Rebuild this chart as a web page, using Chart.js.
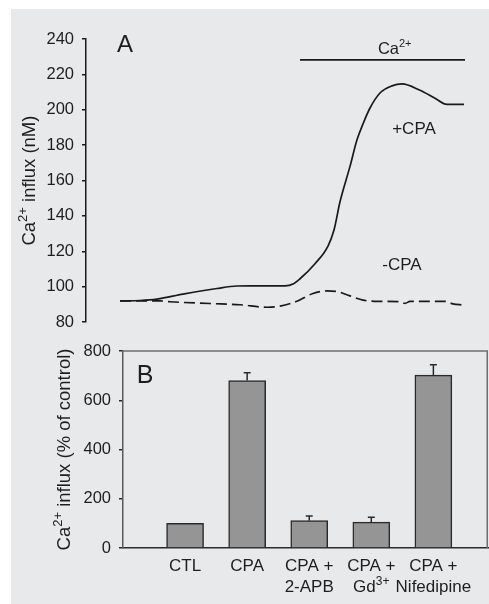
<!DOCTYPE html>
<html>
<head>
<meta charset="utf-8">
<script src="https://cdn.jsdelivr.net/npm/chart.js@4.4.0/dist/chart.umd.min.js"></script>
<style>
  body { margin: 0; width: 489px; height: 604px; background: #fff; position: relative; overflow: hidden; }
  #fond { position: absolute; left: 11px; top: 9px; right: 0; bottom: 0; background: #e8e9eb; }
  #chartA { position: absolute; left: 0; top: 0; }
  #chartB { position: absolute; left: 0; top: 330px; }
</style>
</head>
<body>
<div id="fond"></div>
<canvas id="chartA" width="489" height="340"></canvas>
<canvas id="chartB" width="489" height="274"></canvas>
<script>
// Panneau A : temps (s) et [Ca2+] (nM)
var tempsPlus = [34, 54, 71, 97, 131, 151, 164, 199, 207, 214, 229, 242, 248, 254, 264, 271, 277, 284, 294, 306, 316, 334, 349, 361, 378];
var caPlus = [92, 92.2, 93, 95.8, 99, 100.4, 100.5, 100.5, 101.5, 104.5, 113, 123, 132, 148, 168, 183, 192, 201, 209.5, 213.5, 214.6, 211, 206.5, 203, 203];
var tempsMoins = [34, 74, 84, 124, 154, 181, 194, 211, 227, 241, 251, 264, 277, 294, 314, 319, 324, 359, 367, 377];
var caMoins = [92, 92, 91.5, 90.5, 89.8, 88.4, 89, 91.8, 96.2, 97.6, 97.3, 94.8, 92.4, 91.7, 91.5, 90.6, 91.7, 91.7, 90.3, 89.7];
var barreCaTemps = [214, 379];
var barreCaNiveau = 228.2;
var ticksA = [80, 100, 120, 140, 160, 180, 200, 220, 240];

// Panneau B : influx en % du contrôle
var categories = [['CTL'], ['CPA'], ['CPA +', '2-APB'], ['CPA +', 'Gd^{3+}'], ['CPA +', 'Nifedipine']];
var valeurs = [100, 680, 111, 105, 702];
var erreurs = [0, 32, 19, 20, 42];
var ticksB = [0, 200, 400, 600, 800];

var police = '"Liberation Sans", Arial, Helvetica, sans-serif';
var encre = '#1e1e1e';

// découpe "Ca^{2+}" en morceaux normaux / exposants
function morceaux(texte) {
    var res = [];
    var re = /\^\{([^}]*)\}/g, dernier = 0, m;
    while ((m = re.exec(texte)) !== null) {
        if (m.index > dernier) res.push({ t: texte.slice(dernier, m.index), sup: false });
        res.push({ t: m[1], sup: true });
        dernier = re.lastIndex;
    }
    if (dernier < texte.length) res.push({ t: texte.slice(dernier), sup: false });
    return res;
}

// écrit un texte avec exposants, y = milieu des majuscules
function texteRiche(ctx, texte, x, y, taille, aligne, angle) {
    var parts = morceaux(texte);
    var petite = Math.round(taille * 0.68);
    var largeur = 0;
    parts.forEach(function(p) {
        ctx.font = (p.sup ? petite : taille) + 'px ' + police;
        p.w = ctx.measureText(p.t).width;
        largeur += p.w;
    });
    ctx.save();
    ctx.translate(x, y);
    if (angle) ctx.rotate(angle);
    ctx.fillStyle = encre;
    ctx.textBaseline = 'alphabetic';
    ctx.textAlign = 'left';
    var cx = aligne === 'center' ? -largeur / 2 : (aligne === 'right' ? -largeur : 0);
    var base = taille * 0.358;
    parts.forEach(function(p) {
        ctx.font = (p.sup ? petite : taille) + 'px ' + police;
        ctx.fillText(p.t, cx, p.sup ? base - taille * 0.42 : base);
        cx += p.w;
    });
    ctx.restore();
}

function enPoints(xs, ys) {
    return xs.map(function(x, i) { return { x: x, y: ys[i] }; });
}

// étiquettes du panneau A (coordonnées des axes)
var etiquettesA = [
    { texte: 'A', x: 31, y: 237.7, taille: 24, aligne: 'left' },
    { texte: 'Ca^{2+}', x: 308.7, y: 234.9, taille: 16.5, aligne: 'center' },
    { texte: '+CPA', x: 328, y: 189.6, taille: 17, aligne: 'center' },
    { texte: '-CPA', x: 316, y: 112.7, taille: 17, aligne: 'center' }
];

var textesA = {
    id: 'textesA',
    afterDraw: function(chart) {
        var ctx = chart.ctx, sx = chart.scales.x, sy = chart.scales.y;
        etiquettesA.forEach(function(e) {
            texteRiche(ctx, e.texte, sx.getPixelForValue(e.x), sy.getPixelForValue(e.y), e.taille, e.aligne);
        });
        var milieu = (chart.chartArea.top + chart.chartArea.bottom) / 2;
        texteRiche(ctx, 'Ca^{2+} influx (nM)', 28, milieu, 18.5, 'center', -Math.PI / 2);
    }
};

var chartA = new Chart(document.getElementById('chartA'), {
    type: 'line',
    data: {
        datasets: [{
            data: enPoints(tempsPlus, caPlus),
            borderColor: '#1a1a1a',
            borderWidth: 1.7,
            pointRadius: 0,
            cubicInterpolationMode: 'monotone'
        }, {
            data: enPoints(tempsMoins, caMoins),
            borderColor: '#1a1a1a',
            borderWidth: 1.7,
            borderDash: [11, 5],
            pointRadius: 0,
            cubicInterpolationMode: 'monotone'
        }, {
            data: barreCaTemps.map(function(t) { return { x: t, y: barreCaNiveau }; }),
            borderColor: '#1a1a1a',
            borderWidth: 1.8,
            pointRadius: 0
        }]
    },
    options: {
        responsive: false,
        animation: false,
        layout: { padding: { top: 39, right: 19, bottom: 17, left: 0 } },
        plugins: { legend: { display: false }, tooltip: { enabled: false } },
        scales: {
            x: { type: 'linear', min: 0, max: 384, display: false },
            y: {
                min: 80,
                max: 240,
                afterBuildTicks: function(scale) {
                    scale.ticks = ticksA.map(function(v) { return { value: v }; });
                },
                afterFit: function(scale) { scale.width = 86; },
                ticks: { font: { family: police, size: 16.5 }, color: encre, padding: 8 },
                grid: { drawOnChartArea: false, tickLength: 4, color: '#1a1a1a', lineWidth: 1.5 },
                border: { display: true, color: '#1a1a1a', width: 1.5 }
            }
        }
    },
    plugins: [textesA]
});

// panneau B : barres d'erreur, cadre, libellés
var habillageB = {
    id: 'habillageB',
    afterDatasetsDraw: function(chart) {
        var ctx = chart.ctx, sy = chart.scales.y;
        var meta = chart.getDatasetMeta(0);
        ctx.save();
        ctx.strokeStyle = '#2a2a2a';
        ctx.lineWidth = 1.5;
        valeurs.forEach(function(v, i) {
            if (!erreurs[i]) return;
            var x = meta.data[i].x;
            var haut = sy.getPixelForValue(v + erreurs[i]);
            ctx.beginPath();
            ctx.moveTo(x, sy.getPixelForValue(v));
            ctx.lineTo(x, haut);
            ctx.moveTo(x - 3.5, haut);
            ctx.lineTo(x + 3.5, haut);
            ctx.stroke();
        });
        ctx.restore();
    },
    afterDraw: function(chart) {
        var ctx = chart.ctx, a = chart.chartArea, sx = chart.scales.x, sy = chart.scales.y;
        ctx.save();
        ctx.strokeStyle = '#6e6e6e';
        ctx.lineWidth = 1.5;
        ctx.beginPath();
        ctx.moveTo(a.left, a.top);
        ctx.lineTo(a.right - 0.75, a.top);
        ctx.lineTo(a.right - 0.75, a.bottom);
        ctx.stroke();
        ctx.restore();
        texteRiche(ctx, 'B', sx.getPixelForValue(-0.78), sy.getPixelForValue(707), 25, 'left');
        categories.forEach(function(lignes, i) {
            var x = sx.getPixelForValue(i);
            lignes.forEach(function(l, j) {
                texteRiche(ctx, l, x, a.bottom + 16.5 + j * 21.5, 17, 'center');
            });
        });
        texteRiche(ctx, 'Ca^{2+} influx (% of control)', 63, (a.top + a.bottom) / 2, 18.5, 'center', -Math.PI / 2);
    }
};

var chartB = new Chart(document.getElementById('chartB'), {
    type: 'bar',
    data: {
        datasets: [{
            data: valeurs.map(function(v, i) { return { x: i, y: v }; }),
            backgroundColor: '#959595',
            borderColor: '#2a2a2a',
            borderWidth: 1.5,
            barThickness: 37
        }]
    },
    options: {
        responsive: false,
        animation: false,
        layout: { padding: { top: 21, right: 1, bottom: 0, left: 0 } },
        plugins: { legend: { display: false }, tooltip: { enabled: false } },
        scales: {
            x: {
                type: 'linear',
                min: -1,
                max: 4.88,
                offset: false,
                afterFit: function(scale) { scale.height = 56; },
                ticks: { display: false },
                grid: { drawOnChartArea: false, drawTicks: false },
                border: { display: true, color: '#2a2a2a', width: 1.5 }
            },
            y: {
                min: 0,
                max: 800,
                afterBuildTicks: function(scale) {
                    scale.ticks = ticksB.map(function(v) { return { value: v }; });
                },
                afterFit: function(scale) { scale.width = 123; },
                ticks: { font: { family: police, size: 16.5 }, color: encre, padding: 8 },
                grid: { drawOnChartArea: false, tickLength: 4, color: '#2a2a2a', lineWidth: 1.5 },
                border: { display: true, color: '#5a5a5a', width: 1.5 }
            }
        }
    },
    plugins: [habillageB]
});
</script>
</body>
</html>
